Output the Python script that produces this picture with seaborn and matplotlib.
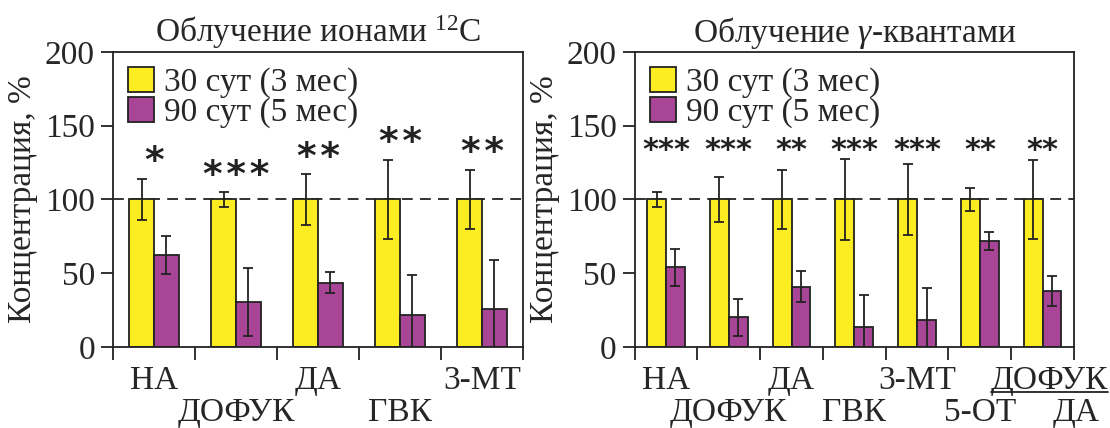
import matplotlib
matplotlib.use("Agg")
import matplotlib.pyplot as plt
from matplotlib.patches import Patch
from matplotlib.lines import Line2D
import seaborn as sns
import pandas as pd

# --- data -----------------------------------------------------------------
left_labels = ["НА", "ДОФУК", "ДА", "ГВК", "3-МТ"]
left_d30 = [100, 100, 100, 100, 100]
left_d30_err = [14, 5, 17, 27, 20]
left_d90 = [62.5, 30.5, 43.5, 22, 25.5]
left_d90_err = [13, 23, 7, 27, 33.5]
left_stars = ["*", "***", "**", "**", "**"]

right_labels = ["НА", "ДОФУК", "ДА", "ГВК", "3-МТ", "5-ОТ", "ДОФУК/ДА"]
right_d30 = [100, 100, 100, 100, 100, 100, 100]
right_d30_err = [5, 15, 20, 27.5, 24, 7.5, 27]
right_d90 = [54, 20, 41, 13.5, 18, 72, 38]
right_d90_err = [12.5, 12.5, 10.5, 22, 22, 6, 10]
right_stars = ["***", "***", "**", "***", "***", "**", "**"]

series_names = ["30 сут (3 мес)", "90 сут (5 мес)"]
titles = ["Облучение ионами $^{12}$C", "Облучение $\\gamma$-квантами"]
y_ticks = [0, 50, 100, 150, 200]
y_label = "Концентрация, %"

# --- style ----------------------------------------------------------------
sns.set_theme(style="white")
plt.rcParams["font.family"] = ["Liberation Serif", "DejaVu Serif"]
plt.rcParams["mathtext.fontset"] = "custom"
plt.rcParams["mathtext.rm"] = "Liberation Serif"
plt.rcParams["mathtext.it"] = "Liberation Serif:italic"

YELLOW = "#FCEC22"
PURPLE = "#A84597"
INK = "#222222"
LW = 1.3
FS = 24
ROW1, ROW2 = -0.142, -0.252

fig = plt.figure(figsize=(11.1, 4.28), dpi=100)
ax_l = fig.add_axes([0.1018, 0.1893, 0.3694, 0.6893])
ax_r = fig.add_axes([0.5717, 0.1893, 0.3959, 0.6893])


def draw_panel(ax, labels, d30, e30, d90, e90, stars, title, common_level):
    df = pd.DataFrame({
        "group": labels * 2,
        "series": [series_names[0]] * len(labels) + [series_names[1]] * len(labels),
        "value": list(d30) + list(d90),
    })
    sns.barplot(data=df, x="group", y="value", hue="series", order=labels,
                hue_order=series_names, palette=[YELLOW, PURPLE], width=0.6,
                errorbar=None, edgecolor=INK, linewidth=LW, saturation=1,
                legend=False, ax=ax, zorder=2)

    # error bars at the centres of the drawn bars
    errs = list(e30) + list(e90)
    vals = list(d30) + list(d90)
    for patch, v, e in zip(ax.patches, vals, errs):
        cx = patch.get_x() + patch.get_width() / 2
        ax.errorbar(cx, v, yerr=e, fmt="none", ecolor=INK, elinewidth=LW,
                    capsize=3.5, capthick=LW, zorder=3)

    ax.axhline(100, color=INK, lw=LW, ls=(0, (6, 4)), zorder=1)

    n = len(labels)
    ax.set_xlim(-0.5, n - 0.5)
    ax.set_ylim(0, 200)
    ax.set_yticks(y_ticks)
    ax.set_yticklabels([str(t) for t in y_ticks], fontsize=FS)
    ax.set_xticks([i - 0.5 for i in range(n + 1)])
    ax.set_xticklabels([])
    ax.tick_params(axis="both", direction="out", length=9, width=LW,
                   color=INK, pad=4, bottom=True, left=True)
    for sp in ax.spines.values():
        sp.set_visible(True)
        sp.set_color(INK)
        sp.set_linewidth(LW)
    ax.set_xlabel("")
    ax.set_ylabel(y_label, fontsize=FS, labelpad=5)
    ax.set_title(title, fontsize=FS, pad=7)

    # category names in two staggered rows
    tr = ax.get_xaxis_transform()
    ax.underlined = []
    for i, lab in enumerate(labels):
        row_y = ROW1 if i % 2 == 0 else ROW2
        if "/" in lab:
            num, den = lab.split("/")
            t_num = ax.text(i + 0.11, ROW1, num, transform=tr, ha="center",
                            va="baseline", fontsize=FS)
            ax.text(i + 0.91, ROW2, den, transform=tr, ha="right",
                    va="baseline", fontsize=FS)
            ax.underlined.append(t_num)
        else:
            ax.text(i, row_y, lab, transform=tr, ha="center", va="baseline",
                    fontsize=FS)

    # significance marks
    tops = [v + e for v, e in zip(d30, e30)]
    for i, s in enumerate(stars):
        if common_level:
            y, txt, fs = max(tops) - 4, s, 22
        else:
            y, txt, fs = tops[i] - 1, "\u200a".join(s), 27
        ax.text(i, y, txt, ha="center", va="bottom", fontsize=fs,
                fontweight="bold", family="DejaVu Sans", color=INK,
                clip_on=False, zorder=4)

    handles = [Patch(facecolor=YELLOW, edgecolor=INK, linewidth=LW),
               Patch(facecolor=PURPLE, edgecolor=INK, linewidth=LW)]
    ax.legend(handles, series_names, loc="upper left", frameon=False,
              fontsize=FS, handlelength=0.78, handleheight=0.78,
              handletextpad=0.3, labelspacing=-0.05, borderpad=0.25,
              borderaxespad=0.2)


draw_panel(ax_l, left_labels, left_d30, left_d30_err, left_d90, left_d90_err,
           left_stars, titles[0], common_level=False)
draw_panel(ax_r, right_labels, right_d30, right_d30_err, right_d90,
           right_d90_err, right_stars, titles[1], common_level=True)

# underline the numerator of the ratio label, just below its baseline
fig.canvas.draw()
renderer = fig.canvas.get_renderer()
fw, fh = fig.bbox.width, fig.bbox.height
for ax in (ax_l, ax_r):
    for t in ax.underlined:
        bb = t.get_window_extent(renderer=renderer)
        base = ax.transAxes.transform((0, ROW1))[1] - 3
        fig.add_artist(Line2D([bb.x0 / fw, bb.x1 / fw], [base / fh, base / fh],
                              color=INK, lw=LW, transform=fig.transFigure))

fig.savefig("out.png", dpi=100)
